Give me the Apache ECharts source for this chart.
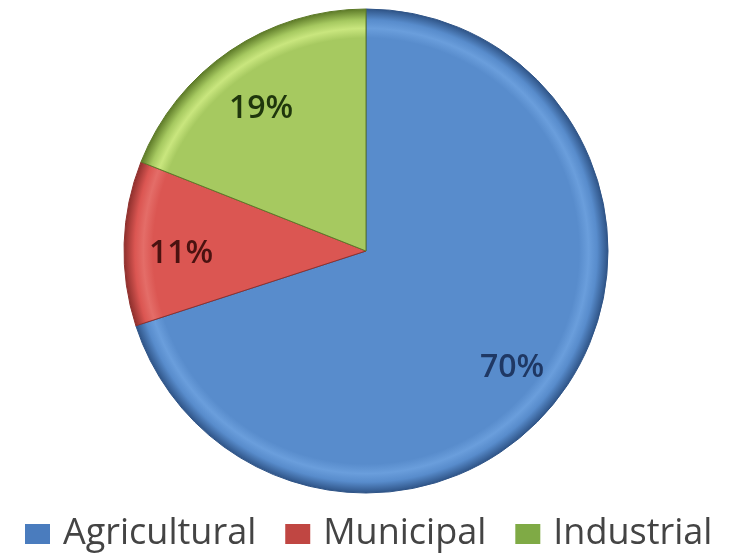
<!DOCTYPE html>
<html>
<head>
<meta charset="utf-8">
<script src="https://cdn.jsdelivr.net/npm/echarts@6/dist/echarts.min.js"></script>
<style>
  html, body { margin: 0; padding: 0; background: #ffffff; }
  #chart { width: 730px; height: 557px; }
</style>
</head>
<body>
<div id="chart"></div>
<script>
// Water withdrawal by sector (percent)
const categories = ['Agricultural', 'Municipal', 'Industrial'];
const shares = [70, 11, 19];
const colors = ['#588ccc', '#db5652', '#a6c960'];
const highlightColors = ['#6a9edc', '#e46d68', '#c9e67e'];
const edgeColors = ['#2f5487', '#8f302d', '#5d7a28'];
const legendColors = ['#4a7cbe', '#c04642', '#7faa45'];
const labelColors = ['#1f3864', '#4a1210', '#1f360c'];

const CX = 366, CY = 251, R = 242;

const chart = echarts.init(document.getElementById('chart'));

// bevel-like shading: flat fill, a light band near the rim, dark outer edge
function bevel(i) {
  return {
    type: 'radial', x: CX, y: CY, r: R, global: true,
    colorStops: [
      { offset: 0, color: colors[i] },
      { offset: 0.88, color: colors[i] },
      { offset: 0.92, color: highlightColors[i] },
      { offset: 0.955, color: colors[i] },
      { offset: 1, color: edgeColors[i] }
    ]
  };
}

const sliceData = categories.map((name, i) => ({
  name,
  value: shares[i],
  itemStyle: { color: bevel(i), borderColor: edgeColors[i], borderWidth: 1 }
}));

const labelData = categories.map((name, i) => ({
  name,
  value: shares[i],
  label: { color: labelColors[i] }
}));

chart.setOption({
  animation: false,
  color: colors,
  legend: {
    top: 514,
    left: 25,
    padding: 0,
    itemWidth: 25,
    itemHeight: 20,
    itemGap: 29,
    icon: 'rect',
    textStyle: {
      fontFamily: 'Open Sans',
      fontSize: 36,
      lineHeight: 40,
      color: '#444444',
      padding: [0, 0, 0, 8]
    },
    data: categories.map((name, i) => ({
      name,
      itemStyle: { color: legendColors[i], borderWidth: 0 }
    }))
  },
  series: [
    {
      type: 'pie',
      center: [CX, CY],
      radius: [0, R],
      startAngle: 90,
      clockwise: true,
      label: { show: false },
      labelLine: { show: false },
      emphasis: { disabled: true },
      data: sliceData
    },
    {
      // transparent ring that carries the percentage labels at ~3/4 radius
      type: 'pie',
      center: [CX, CY],
      radius: [118, R],
      startAngle: 90,
      clockwise: true,
      silent: true,
      legendHoverLink: false,
      itemStyle: { color: 'rgba(0,0,0,0)', borderWidth: 0 },
      label: {
        show: true,
        position: 'inside',
        formatter: '{c}%',
        fontFamily: 'Open Sans',
        fontSize: 32,
        fontWeight: 600,
        offset: [-2, 9]
      },
      labelLine: { show: false },
      emphasis: { disabled: true },
      data: labelData
    }
  ]
});
</script>
</body>
</html>
